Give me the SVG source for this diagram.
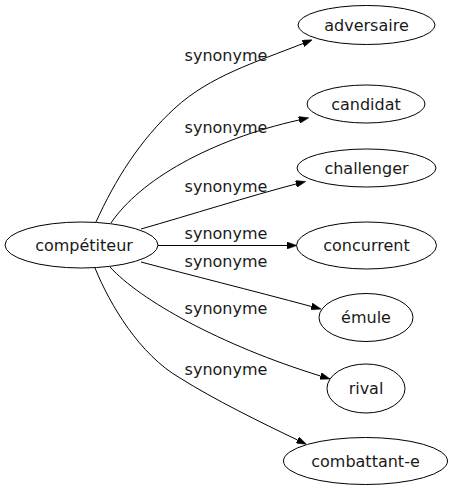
<svg xmlns="http://www.w3.org/2000/svg" width="453" height="491" viewBox="0 0 453 491">
<style>
.node ellipse{fill:#fff;stroke:#000;stroke-width:1}
.node text{font-family:"DejaVu Sans",sans-serif;font-size:16px;fill:#1a1a1a;text-anchor:middle}
.edge path{fill:none;stroke:#000;stroke-width:1}
.lbl{font-family:"DejaVu Sans",sans-serif;font-size:16px;fill:#1a1a1a;text-anchor:middle}
</style>
<defs>
<marker id="arr" markerUnits="userSpaceOnUse" markerWidth="10" markerHeight="7" viewBox="0 0 10 7" refX="0" refY="3.5" orient="auto">
<path d="M0,0 L10,3.5 L0,7 z" fill="#000" stroke="#000" stroke-width="0.5"/>
</marker>
</defs>
<rect width="453" height="491" fill="#fff"/>
<g id="edges" class="edge">
<path d="M96,222 C115,180 140,140 175,108 C210,76 255,62.5 303,43.5" marker-end="url(#arr)"/>
<path d="M111,223 C140,180 210,140 299,120" marker-end="url(#arr)"/>
<path d="M141,229 C190,215 250,196 296,184" marker-end="url(#arr)"/>
<path d="M158,245.5 L287,245.5" marker-end="url(#arr)"/>
<path d="M141,262 C190,275 250,290 311.5,306.5" marker-end="url(#arr)"/>
<path d="M110,267 C140,300 220,345 320.5,376" marker-end="url(#arr)"/>
<path d="M95,268 C110,305 140,355 180,378 C215,400 260,422 297.5,440" marker-end="url(#arr)"/>
<text class="lbl" x="226" y="60.5">synonyme</text>
<text class="lbl" x="226" y="133">synonyme</text>
<text class="lbl" x="226" y="192">synonyme</text>
<text class="lbl" x="226" y="239">synonyme</text>
<text class="lbl" x="226" y="267">synonyme</text>
<text class="lbl" x="226" y="314">synonyme</text>
<text class="lbl" x="226" y="375">synonyme</text>
</g>
<g id="node-competiteur" class="node">
<ellipse cx="81.5" cy="245" rx="76.5" ry="23"/>
<text x="84" y="250.5">compétiteur</text>
</g>
<g id="node-adversaire" class="node">
<ellipse cx="366.5" cy="25" rx="68.5" ry="19.5"/>
<text x="366.5" y="30.5">adversaire</text>
</g>
<g id="node-candidat" class="node">
<ellipse cx="366" cy="104" rx="59" ry="19"/>
<text x="366" y="109.5">candidat</text>
</g>
<g id="node-challenger" class="node">
<ellipse cx="366.5" cy="168" rx="69.5" ry="19"/>
<text x="366.5" y="173.5">challenger</text>
</g>
<g id="node-concurrent" class="node">
<ellipse cx="366.5" cy="245.5" rx="70" ry="23.5"/>
<text x="366.5" y="251">concurrent</text>
</g>
<g id="node-emule" class="node">
<ellipse cx="366" cy="317.5" rx="47" ry="24"/>
<text x="366" y="323">émule</text>
</g>
<g id="node-rival" class="node">
<ellipse cx="366" cy="388.5" rx="39" ry="24.5"/>
<text x="366" y="394">rival</text>
</g>
<g id="node-combattant-e" class="node">
<ellipse cx="365.5" cy="461" rx="82" ry="23.5"/>
<text x="365.5" y="466.5">combattant-e</text>
</g>
</svg>
